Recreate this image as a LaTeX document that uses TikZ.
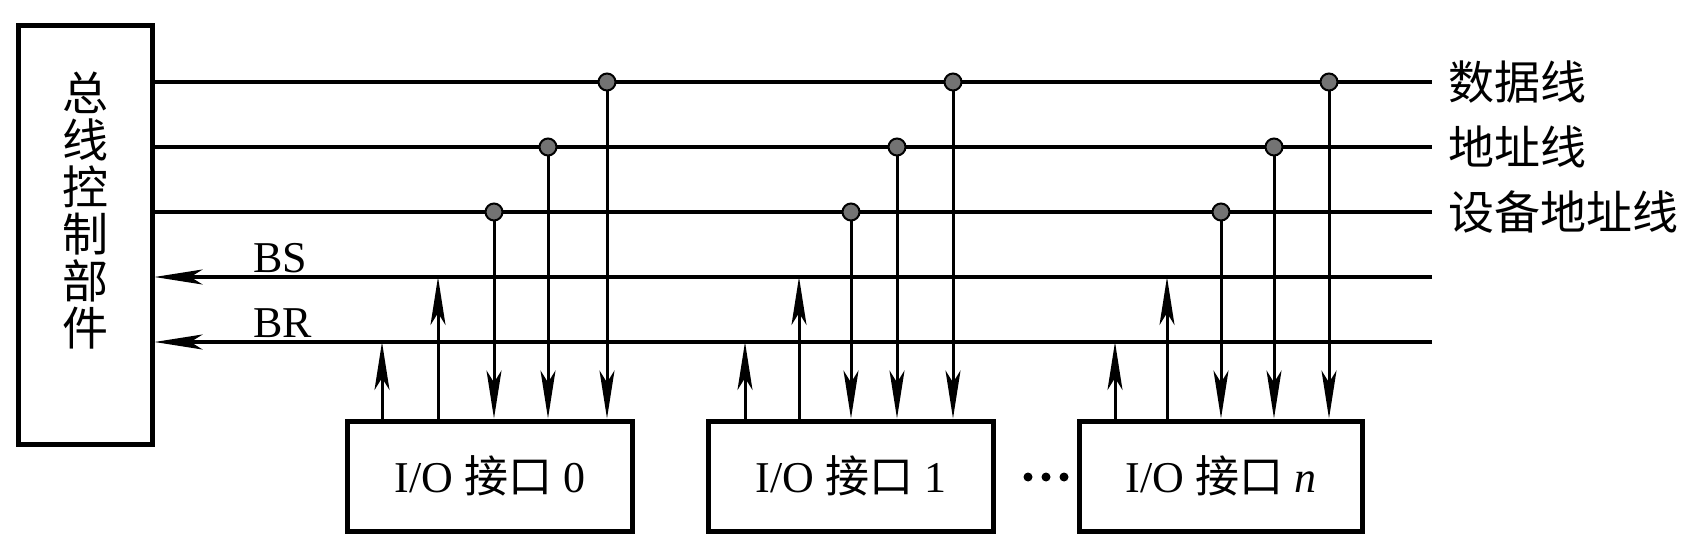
\documentclass[tikz,border=0pt]{standalone}
\usepackage{fontspec}
\setmainfont{Liberation Serif}
\newfontfamily\cjk{Noto Sans CJK SC}
\usetikzlibrary{arrows.meta}
\begin{document}
\begin{tikzpicture}[x=1pt,y=-1pt,
  bus/.style={line width=3.5pt},
  tap/.style={line width=3pt},
  arr/.style={-{Stealth[length=48pt,width=15pt,inset=12pt]}},
  box/.style={draw,line width=5pt,inner sep=0pt},
  tapdot/.style={circle,draw,line width=2pt,fill=black!55,minimum size=17pt,inner sep=0pt},
  lab/.style={font=\fontsize{44}{47}\selectfont,inner sep=0pt},
  cjklab/.style={inner sep=0pt,font=\fontsize{46}{47}\selectfont\cjk}
]
\useasboundingbox (0,0) rectangle (1697,543);
% boxes
\node[box,minimum width=134pt,minimum height=418pt] (ctrl) at (85,235) {};
\node[cjklab,align=center] (ctrltext) at (85,211) {总\\线\\控\\制\\部\\件};
\node[box,minimum width=285pt,minimum height=110pt,lab] (io0) at (490,476) {I/O {\cjk 接口} 0};
\node[box,minimum width=285pt,minimum height=110pt,lab] (io1) at (851,476) {I/O {\cjk 接口} 1};
\node[box,minimum width=283pt,minimum height=110pt,lab] (ion) at (1221,476) {I/O {\cjk 接口} \textit{n}};
% bus line ends
\coordinate (dE) at (1432,82);
\coordinate (aE) at (1432,147);
\coordinate (vE) at (1432,212);
\coordinate (sE) at (1432,277);
\coordinate (rE) at (1432,342);
\draw[bus] (ctrl.east |- dE) -- (dE);
\draw[bus] (ctrl.east |- aE) -- (aE);
\draw[bus] (ctrl.east |- vE) -- (vE);
\draw[bus,arr] (sE) -- (ctrl.east |- sE);
\draw[bus,arr] (rE) -- (ctrl.east |- rE);
% labels
\node[cjklab,anchor=west] (ldata) at (1448,82) {数据线};
\node[cjklab,anchor=west] (laddr) at (1448,147) {地址线};
\node[cjklab,anchor=west] (ldev) at (1448,212) {设备地址线};
\node[lab,anchor=base west] (lbs) at (253,272) {BS};
\node[lab,anchor=base west] (lbr) at (253,337) {BR};
% taps: name, x, line y, box
\foreach \n/\x/\y/\b in {d0/607/82/io0, a0/548/147/io0, v0/494/212/io0,
                          d1/953/82/io1, a1/897/147/io1, v1/851/212/io1,
                          dn/1329/82/ion, an/1274/147/ion, vn/1221/212/ion}{
  \coordinate (\n) at (\x,\y);
  \draw[tap,arr] (\n) -- (\n |- \b.north);
  \node[tapdot] (\n dot) at (\n) {};
}
% request / status arrows up
\foreach \n/\x/\y/\b in {r0/382/342/io0, s0/438/277/io0,
                          r1/745/342/io1, s1/799/277/io1,
                          rn/1115/342/ion, sn/1167/277/ion}{
  \coordinate (\n) at (\x,\y);
  \draw[tap,arr] (\n |- \b.north) -- (\n);
}
% ellipsis
\foreach \x in {1028,1046,1064}{\fill (\x,477) circle (4.5pt);}
\end{tikzpicture}
\end{document}
